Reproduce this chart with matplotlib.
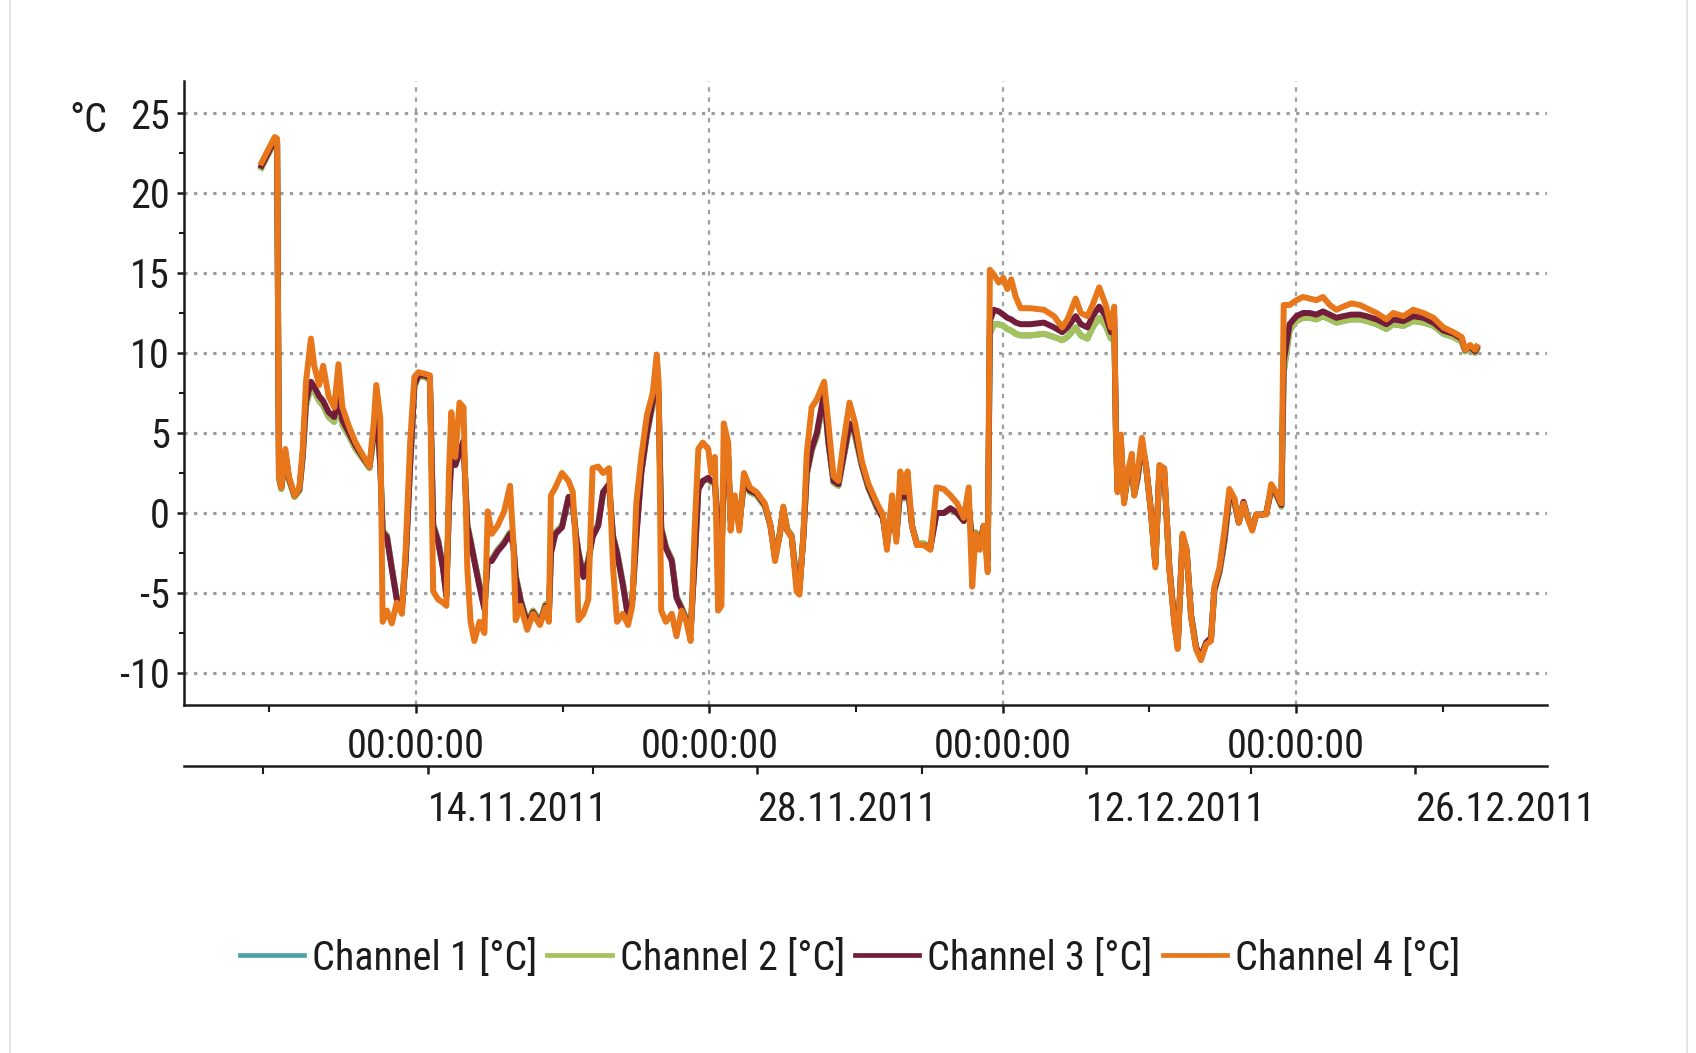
import matplotlib
matplotlib.use("Agg")
import matplotlib.pyplot as plt
from matplotlib import font_manager as fm
from matplotlib.font_manager import FontProperties
from matplotlib.ticker import FixedLocator, MultipleLocator
from matplotlib.lines import Line2D

# ---------------- data (time in days since 01.11.2011 00:00) ----------------
t_days = [
    5.92, 6.48, 6.58, 6.66, 6.76, 6.93, 7.08, 7.32, 7.53, 7.67,
    7.81, 8.02, 8.16, 8.37, 8.54, 8.77, 9.01, 9.19, 9.36, 9.64,
    9.92, 10.27, 10.51, 10.69, 10.80, 10.97, 11.07, 11.25, 11.46, 11.67,
    11.89, 12.05, 12.24, 12.42, 12.59, 12.87, 13.08, 13.22, 13.43, 13.64,
    13.78, 13.89, 13.99, 14.16, 14.34, 14.51, 14.67, 14.81, 14.97, 15.19,
    15.40, 15.54, 15.71, 15.96, 16.24, 16.49, 16.63, 16.73, 16.94, 17.22,
    17.47, 17.76, 18.00, 18.14, 18.23, 18.42, 18.70, 18.98, 19.16, 19.30,
    19.40, 19.61, 19.82, 20.00, 20.24, 20.45, 20.70, 20.87, 21.04, 21.29,
    21.51, 21.69, 21.86, 22.07, 22.31, 22.56, 22.73, 22.81, 22.92, 23.12,
    23.37, 23.57, 23.79, 23.99, 24.17, 24.34, 24.50, 24.69, 24.92, 25.05,
    25.20, 25.34, 25.48, 25.58, 25.77, 25.87, 26.05, 26.24, 26.44, 26.69,
    26.98, 27.33, 27.57, 27.76, 27.97, 28.11, 28.28, 28.47, 28.68, 28.80,
    28.97, 29.11, 29.32, 29.54, 29.85, 30.03, 30.25, 30.46, 30.67, 30.93,
    31.17, 31.46, 31.74, 32.10, 32.35, 32.52, 32.74, 32.92, 33.09, 33.26,
    33.40, 33.59, 33.80, 34.09, 34.37, 34.63, 34.94, 35.22, 35.51, 35.79,
    36.00, 36.15, 36.29, 36.47, 36.64, 36.81, 36.90, 37.07, 37.28, 37.47,
    37.64, 37.81, 38.00, 38.21, 38.63, 39.20, 39.63, 39.98, 40.20, 40.55,
    40.77, 41.05, 41.27, 41.55, 41.83, 42.05, 42.19, 42.26, 42.33, 42.47,
    42.61, 42.76, 42.94, 43.04, 43.18, 43.37, 43.54, 43.75, 43.94, 44.11,
    44.32, 44.53, 44.75, 44.89, 45.10, 45.27, 45.46, 45.67, 45.88, 46.10,
    46.31, 46.45, 46.67, 46.88, 47.09, 47.31, 47.49, 47.69, 47.87, 48.06,
    48.23, 48.49, 48.66, 48.87, 49.08, 49.30, 49.40, 49.65, 49.94, 50.22,
    50.50, 50.79, 51.07, 51.36, 51.64, 51.93, 52.28, 52.64, 52.92, 53.35,
    53.77, 54.06, 54.49, 54.91, 55.34, 55.77, 56.19, 56.62, 56.97, 57.12,
    57.33, 57.54, 57.61,
]

channel_1 = [
    21.6, 23.2, 23.1, 2.2, 1.5, 3.7, 2.1, 1.0, 1.4, 3.5,
    6.7, 7.9, 7.6, 7.0, 6.7, 6.0, 5.7, 6.9, 5.5, 4.8,
    4.0, 3.3, 2.8, 4.8, 6.8, 3.0, -1.1, -1.4, -3.4, -5.3,
    -5.9, -2.9, 3.0, 7.9, 8.5, 8.5, 8.3, -0.7, -1.7, -3.4,
    -5.1, 0.6, 3.5, 3.0, 3.7, 4.4, -0.7, -1.7, -2.9, -4.5,
    -5.9, -2.9, -2.9, -2.3, -1.8, -1.2, -1.9, -3.9, -5.4, -6.8,
    -6.1, -6.8, -5.7, -6.4, -2.4, -1.2, -0.8, 1.0, 0.5, -1.4,
    -2.4, -3.9, -2.9, -1.4, -0.7, 1.3, 1.8, -1.4, -2.4, -4.4,
    -6.4, -5.4, -1.4, 2.5, 4.9, 6.8, 8.3, 7.3, -0.9, -2.1,
    -2.9, -5.2, -5.9, -6.6, -7.4, -2.9, 1.5, 2.0, 2.1, 1.9,
    1.9, -0.9, -2.9, 2.4, 3.4, -0.4, 0.8, -0.7, 1.9, 1.3,
    1.1, 0.4, -0.8, -2.7, -1.2, 0.3, -1.0, -1.4, -4.4, -4.7,
    -1.4, 2.4, 3.9, 4.8, 7.3, 4.4, 1.9, 1.7, 3.4, 5.4,
    4.8, 2.9, 1.5, 0.3, -0.3, -1.9, 0.5, -1.4, 1.4, 0.9,
    1.7, -0.8, -1.9, -1.9, -2.1, 0.0, 0.0, 0.2, 0.0, -0.5,
    0.5, -1.9, -1.2, -1.9, -0.8, -2.9, 11.2, 11.8, 11.8, 11.7,
    11.5, 11.4, 11.2, 11.1, 11.1, 11.2, 11.0, 10.8, 11.0, 11.6,
    11.1, 10.9, 11.6, 12.2, 11.7, 10.9, 11.6, 5.3, 1.5, 4.4,
    0.8, 2.2, 3.2, 1.1, 2.1, 4.2, 2.9, 0.1, -3.2, 2.6,
    2.5, -3.3, -6.8, -8.3, -1.5, -2.4, -6.4, -8.4, -9.0, -8.1,
    -7.8, -4.9, -3.7, -1.8, 1.0, 0.6, -0.6, 0.6, -0.3, -1.0,
    -0.1, -0.1, 0.0, 1.4, 1.1, 0.4, 8.8, 11.4, 12.0, 12.2,
    12.2, 12.1, 12.3, 12.1, 11.9, 12.0, 12.1, 12.1, 12.0, 11.8,
    11.5, 11.8, 11.7, 12.0, 11.9, 11.7, 11.2, 11.0, 10.7, 10.1,
    10.3, 10.0, 10.2,
]

channel_2 = [
    21.6, 23.2, 23.1, 2.2, 1.5, 3.7, 2.1, 1.0, 1.4, 3.5,
    6.7, 7.9, 7.6, 7.0, 6.7, 6.0, 5.7, 6.9, 5.5, 4.8,
    4.0, 3.3, 2.8, 4.8, 6.8, 3.0, -1.1, -1.4, -3.4, -5.3,
    -5.9, -2.9, 3.0, 7.9, 8.5, 8.5, 8.3, -0.7, -1.7, -3.4,
    -5.1, 0.6, 3.6, 3.0, 3.7, 4.4, -0.7, -1.7, -2.9, -4.5,
    -5.9, -2.9, -2.9, -2.3, -1.8, -1.2, -1.9, -3.9, -5.4, -6.8,
    -6.1, -6.8, -5.7, -6.4, -2.4, -1.2, -0.8, 1.0, 0.5, -1.4,
    -2.4, -3.9, -2.9, -1.4, -0.7, 1.3, 1.8, -1.4, -2.4, -4.4,
    -6.4, -5.4, -1.4, 2.5, 4.9, 6.8, 8.3, 7.3, -0.9, -2.1,
    -2.9, -5.2, -5.9, -6.6, -7.4, -2.9, 1.5, 2.0, 2.1, 1.9,
    1.9, -0.9, -2.9, 2.4, 3.4, -0.4, 0.8, -0.7, 1.9, 1.3,
    1.1, 0.4, -0.8, -2.7, -1.2, 0.3, -1.0, -1.4, -4.4, -4.7,
    -1.4, 2.4, 3.9, 4.8, 7.3, 4.4, 1.9, 1.7, 3.4, 5.4,
    4.8, 2.9, 1.5, 0.3, -0.3, -1.9, 0.5, -1.4, 1.4, 0.9,
    1.7, -0.8, -1.9, -1.9, -2.1, 0.0, 0.0, 0.2, 0.0, -0.5,
    0.5, -1.9, -1.2, -1.9, -0.8, -2.9, 11.2, 11.8, 11.8, 11.7,
    11.5, 11.4, 11.2, 11.1, 11.1, 11.2, 11.0, 10.8, 11.0, 11.6,
    11.1, 10.9, 11.6, 12.2, 11.7, 10.9, 11.6, 5.3, 1.5, 4.4,
    0.8, 2.2, 3.2, 1.1, 2.1, 4.2, 2.9, 0.1, -3.2, 2.6,
    2.5, -3.3, -6.8, -8.3, -1.5, -2.4, -6.4, -8.4, -9.0, -8.1,
    -7.8, -4.9, -3.7, -1.8, 1.0, 0.6, -0.6, 0.6, -0.3, -1.0,
    -0.1, -0.1, 0.0, 1.4, 1.1, 0.4, 8.8, 11.4, 12.0, 12.2,
    12.2, 12.1, 12.3, 12.1, 11.9, 12.0, 12.1, 12.1, 12.0, 11.8,
    11.5, 11.8, 11.7, 12.0, 11.9, 11.7, 11.2, 11.0, 10.7, 10.1,
    10.3, 10.0, 10.2,
]

channel_3 = [
    21.7, 23.3, 23.2, 2.3, 1.6, 3.8, 2.2, 1.1, 1.5, 3.6,
    7.0, 8.2, 7.9, 7.3, 7.0, 6.3, 6.0, 7.2, 5.8, 5.0,
    4.2, 3.4, 2.9, 5.0, 7.0, 3.0, -1.2, -1.5, -3.5, -5.4,
    -6.0, -3.0, 3.0, 8.0, 8.6, 8.6, 8.4, -0.8, -1.8, -3.5,
    -5.2, 0.5, 3.5, 3.0, 3.8, 4.5, -0.8, -1.8, -3.0, -4.6,
    -6.0, -3.0, -3.0, -2.4, -1.9, -1.3, -2.0, -4.0, -5.5, -6.9,
    -6.2, -6.9, -5.8, -6.5, -2.5, -1.3, -0.9, 1.0, 0.5, -1.5,
    -2.5, -4.0, -3.0, -1.5, -0.8, 1.3, 1.8, -1.5, -2.5, -4.5,
    -6.5, -5.5, -1.5, 2.5, 5.0, 7.0, 8.5, 7.5, -1.0, -2.2,
    -3.0, -5.3, -6.0, -6.7, -7.5, -3.0, 1.5, 2.0, 2.2, 2.0,
    2.0, -1.0, -3.0, 2.5, 3.5, -0.5, 0.8, -0.8, 2.0, 1.4,
    1.2, 0.5, -0.8, -2.8, -1.3, 0.3, -1.1, -1.5, -4.5, -4.8,
    -1.5, 2.5, 4.0, 5.0, 7.5, 4.5, 2.0, 1.8, 3.5, 5.6,
    5.0, 3.0, 1.6, 0.4, -0.3, -2.0, 0.5, -1.5, 1.5, 1.0,
    1.8, -0.8, -2.0, -2.0, -2.2, 0.0, 0.0, 0.3, 0.0, -0.5,
    0.5, -2.0, -1.3, -2.0, -0.8, -3.0, 12.0, 12.7, 12.6, 12.4,
    12.2, 12.1, 11.9, 11.8, 11.8, 11.9, 11.6, 11.3, 11.6, 12.3,
    11.8, 11.6, 12.3, 12.9, 12.3, 11.3, 12.3, 5.5, 1.5, 4.5,
    0.8, 2.3, 3.3, 1.2, 2.2, 4.3, 3.0, 0.2, -3.2, 2.7,
    2.6, -3.3, -6.8, -8.3, -1.4, -2.3, -6.4, -8.4, -9.0, -8.1,
    -7.8, -4.8, -3.6, -1.6, 1.2, 0.7, -0.6, 0.7, -0.3, -1.0,
    -0.1, -0.1, 0.0, 1.5, 1.2, 0.5, 9.5, 11.8, 12.3, 12.5,
    12.5, 12.4, 12.6, 12.4, 12.2, 12.3, 12.4, 12.4, 12.3, 12.1,
    11.8, 12.1, 12.0, 12.3, 12.2, 11.9, 11.4, 11.2, 10.9, 10.2,
    10.4, 10.1, 10.3,
]

channel_4 = [
    21.9, 23.5, 23.4, 2.3, 1.6, 4.0, 2.3, 1.1, 1.6, 4.0,
    8.2, 10.9, 9.2, 8.0, 9.2, 7.3, 6.6, 9.3, 6.6, 5.4,
    4.4, 3.5, 2.9, 5.6, 8.0, 5.9, -6.8, -6.1, -6.9, -5.6,
    -6.3, -2.3, 4.4, 8.5, 8.8, 8.7, 8.6, -4.9, -5.4, -5.6,
    -5.8, 2.5, 6.3, 3.5, 6.9, 6.6, -3.4, -6.8, -8.0, -6.8,
    -7.5, 0.1, -1.3, -0.8, 0.1, 1.7, -1.8, -6.7, -5.8, -7.3,
    -6.3, -7.0, -5.9, -6.8, 1.1, 1.6, 2.5, 2.0, 1.3, -2.3,
    -6.7, -6.3, -5.4, 2.8, 2.9, 2.5, 2.8, -3.4, -6.8, -6.3,
    -7.0, -5.8, 0.6, 3.5, 6.1, 7.5, 9.9, 8.2, -6.1, -6.8,
    -6.3, -7.7, -6.1, -6.8, -8.0, -1.1, 4.0, 4.4, 4.0, 2.5,
    3.5, -6.1, -5.8, 5.6, 4.4, -1.1, 1.1, -1.1, 2.5, 1.6,
    1.3, 0.6, -0.8, -3.0, -1.3, 0.4, -1.1, -1.5, -4.9, -5.1,
    -1.3, 3.7, 6.6, 7.1, 8.2, 5.6, 2.3, 2.0, 4.4, 6.9,
    5.6, 3.2, 1.8, 0.6, -0.1, -2.3, 1.1, -1.8, 2.6, 1.3,
    2.6, -0.8, -2.0, -2.0, -2.3, 1.6, 1.5, 1.1, 0.6, -0.3,
    1.6, -4.6, -1.3, -2.3, -0.8, -3.7, 15.2, 14.9, 14.4, 14.7,
    14.0, 14.6, 13.5, 12.8, 12.8, 12.7, 12.3, 11.6, 12.1, 13.4,
    12.5, 12.3, 13.0, 14.1, 13.0, 11.6, 12.9, 4.9, 1.3, 4.9,
    0.6, 2.5, 3.7, 1.1, 2.5, 4.7, 3.0, 0.1, -3.4, 3.0,
    2.8, -3.4, -7.0, -8.5, -1.3, -2.3, -6.5, -8.5, -9.2, -8.2,
    -8.0, -4.6, -3.4, -1.1, 1.5, 0.9, -0.6, 0.6, -0.3, -1.1,
    -0.1, -0.1, -0.1, 1.8, 1.3, 0.6, 13.0, 13.0, 13.3, 13.5,
    13.4, 13.3, 13.5, 13.0, 12.7, 12.9, 13.1, 13.0, 12.8, 12.5,
    12.1, 12.5, 12.3, 12.7, 12.5, 12.2, 11.6, 11.3, 11.0, 10.2,
    10.5, 10.2, 10.4,
]

channel_names = ["Channel 1 [°C]", "Channel 2 [°C]", "Channel 3 [°C]", "Channel 4 [°C]"]
channel_colors = ["#4fa3a5", "#a5c25c", "#721d3a", "#e8761b"]

y_ticks = [-10, -5, 0, 5, 10, 15, 20, 25]
time_tick_days = [12.49, 24.97, 37.45, 49.93]
time_tick_labels = ["00:00:00", "00:00:00", "00:00:00", "00:00:00"]
time_minor_days = [6.25, 18.73, 31.21, 43.69, 56.17]
date_tick_days = [13, 27, 41, 55]
date_tick_labels = ["14.11.2011", "28.11.2011", "12.12.2011", "26.12.2011"]
date_minor_days = [6, 20, 34, 48]

# ---------------- font: prefer a narrow sans face ----------------
plt.rcParams["axes.unicode_minus"] = False


def pick_font():
    prefs = ["Liberation Sans Narrow", "Arial Narrow", "Roboto Condensed",
             "Open Sans Condensed", "DejaVu Sans Condensed"]
    entries = fm.fontManager.ttflist
    for name in prefs:
        for f in entries:
            if f.name == name and f.style == "normal" and str(f.weight) in ("400", "normal", "regular", "book"):
                return f.fname
    for f in entries:
        st = str(f.stretch).lower()
        if ("condensed" in st or "narrow" in st) and "semi" not in st and "extra" not in st \
                and f.style == "normal" and str(f.weight) in ("400", "normal", "regular", "book") \
                and f.name in ("DejaVu Sans", "Roboto", "Open Sans", "Noto Sans", "Liberation Sans"):
            return f.fname
    return None


font_path = pick_font()
W, H = 1696, 1053
fig = plt.figure(figsize=(W / 100, H / 100), dpi=100)
fig.patch.set_facecolor("white")

if font_path:
    base_fp = FontProperties(fname=font_path)
else:
    base_fp = FontProperties(family=["Liberation Sans", "DejaVu Sans"])

# size the font so that "00:00:00" is ~138 px wide as in the reference
probe = fig.text(0, 0, "00:00:00", fontproperties=base_fp, fontsize=30)
renderer = fig.canvas.get_renderer()
wpx = probe.get_window_extent(renderer).width
probe.remove()
FS = 30 * 138.0 / wpx
FS = min(FS, 34)
fp = base_fp.copy()
fp.set_size(FS)

TXT = "#1c1c1c"

ax = fig.add_axes([184 / W, 1 - 705 / H, (1547 - 184) / W, (705 - 81) / H])

series = [channel_1, channel_2, channel_3, channel_4]
for vals, col in zip(series, channel_colors):
    ax.plot(t_days, vals, color=col, lw=4.3, solid_joinstyle="round", zorder=3)

ax.set_xlim(2.62, 60.6)
ax.set_ylim(-12, 27)

ax.set_yticks(y_ticks)
ax.yaxis.set_minor_locator(MultipleLocator(2.5))
ax.set_xticks(time_tick_days, labels=time_tick_labels)
ax.xaxis.set_minor_locator(FixedLocator(time_minor_days))

ax.tick_params(axis="both", which="both", colors=TXT, labelcolor=TXT)
ax.tick_params(axis="y", which="major", length=5, width=1.8, pad=5)
ax.tick_params(axis="y", which="minor", length=3.5, width=1.5)
ax.tick_params(axis="x", which="major", length=6, width=1.8, pad=10)
ax.tick_params(axis="x", which="minor", length=5, width=1.5)
for lbl in ax.get_yticklabels() + ax.get_xticklabels():
    lbl.set_fontproperties(fp)

ax.grid(axis="y", which="major", linestyle=(0, (1, 2.0)), color="#9c9c9c", linewidth=2.3, zorder=0)
ax.grid(axis="x", which="major", linestyle=(0, (2, 2.6)), color="#a0a0a0", linewidth=1.6, zorder=0)
ax.set_axisbelow(True)

for s in ["top", "right"]:
    ax.spines[s].set_visible(False)
for s in ["left", "bottom"]:
    ax.spines[s].set_linewidth(1.8)
    ax.spines[s].set_color(TXT)

# second (date) axis below
sec = ax.secondary_xaxis(-61 / 624)
sec.set_xticks(date_tick_days, labels=date_tick_labels)
sec.xaxis.set_minor_locator(FixedLocator(date_minor_days))
sec.tick_params(which="major", length=6, width=1.8, pad=11, colors=TXT, labelcolor=TXT)
sec.tick_params(which="minor", length=6, width=1.5, colors=TXT)
sec.spines["bottom"].set_linewidth(1.8)
sec.spines["bottom"].set_color(TXT)
for lbl in sec.get_xticklabels():
    lbl.set_fontproperties(fp)
    lbl.set_horizontalalignment("left")

fig.text(88 / W, 1 - 121 / H, "°C", ha="center", va="center", fontproperties=fp, color=TXT)

handles = [Line2D([], [], color=c, lw=3.4) for c in channel_colors]
fig.legend(handles, channel_names, loc="center", bbox_to_anchor=(850 / W, 1 - 958 / H),
           ncol=4, frameon=False, prop=fp, handlelength=1.6, handletextpad=0.2,
           columnspacing=0.25, borderaxespad=0, labelcolor=TXT)

# faint frame of the original screenshot
for xf in (10 / W, 1687 / W):
    fig.add_artist(Line2D([xf, xf], [0, 1], transform=fig.transFigure, color="#e4e4e4", lw=1.5))

fig.savefig("out.png", dpi=100, facecolor="white")
